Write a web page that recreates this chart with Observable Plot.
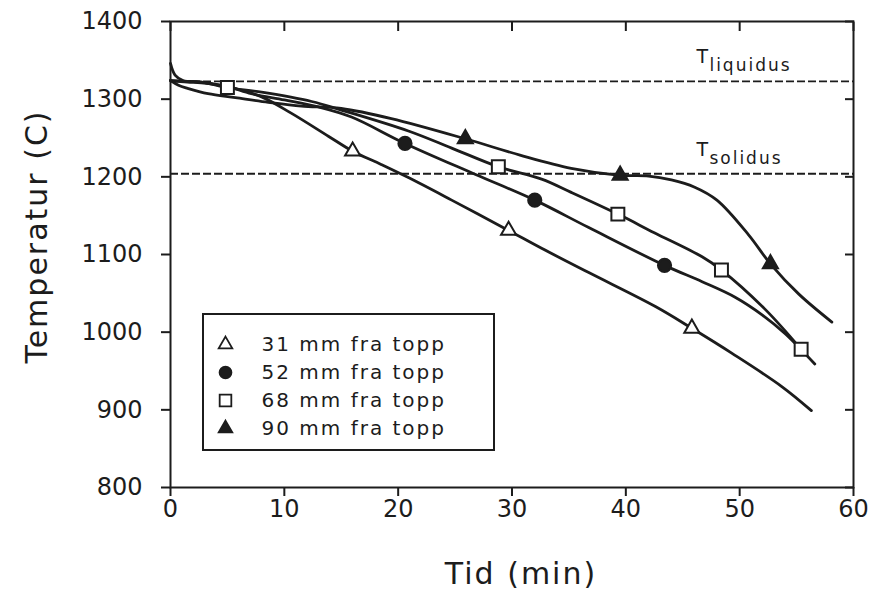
<!DOCTYPE html>
<html>
<head>
<meta charset="utf-8">
<script src="https://cdn.jsdelivr.net/npm/d3@7"></script>
<script src="https://cdn.jsdelivr.net/npm/@observablehq/plot@0.6"></script>
<style>
  html, body { margin: 0; padding: 0; background: #fff; }
  #chart { position: relative; width: 872px; height: 595px; font-family: "DejaVu Sans", sans-serif; }
  #legend { position: absolute; z-index: 1; left: 202px; top: 313px; width: 293px; height: 138px;
            box-sizing: border-box; border: 2.5px solid #1c1c1c; background: #fff; }
  #legend text { letter-spacing: 2px; }
  #chart g[aria-label="text"] text { letter-spacing: 2px; }
</style>
</head>
<body>
<div id="chart"><div id="legend"></div></div>
<script>
// Cooling curves: temperature (°C) against time (min) at four depths below the top.
const series = ["31 mm fra topp", "52 mm fra topp", "68 mm fra topp", "90 mm fra topp"];
const symbols = ["triangle", "circle", "square", "triangle"];
const filled = [false, true, false, true];

const time31 = [0, 0.4, 1.1, 2.7, 5.1, 8.0, 10.6, 13.9, 16.0, 18.5, 20.9, 24.7, 29.7, 32.6, 36.7, 42.6, 45.8, 49.3, 53.7, 56.3];
const temp31 = [1346, 1331, 1324, 1322, 1316, 1303, 1282, 1252, 1233, 1216, 1199, 1170, 1131, 1108, 1077, 1033, 1005, 973, 930, 899];
const markTime31 = [16.0, 29.7, 45.8];
const markTemp31 = [1233, 1131, 1005];

const time52 = [0, 1.5, 2.7, 5.0, 7.1, 10.0, 13.0, 15.9, 20.6, 26.8, 32.0, 36.7, 43.4, 46.7, 49.6, 52.0, 54.0, 56.6];
const temp52 = [1324, 1322, 1321, 1316, 1307, 1299, 1290, 1277, 1243, 1203, 1170, 1135, 1086, 1065, 1045, 1022, 998, 959];
const markTime52 = [20.6, 32.0, 43.4];
const markTemp52 = [1243, 1170, 1086];

const time68 = [0, 1.2, 2.7, 5.0, 8.0, 12.4, 15.0, 20.9, 24.7, 28.8, 32.6, 35.2, 39.3, 42.5, 46.7, 48.4, 52.2, 55.4];
const temp68 = [1324, 1323, 1322, 1315, 1309, 1297, 1286, 1259, 1237, 1213, 1197, 1180, 1152, 1128, 1097, 1080, 1030, 978];
const markTime68 = [5.0, 28.8, 39.3, 48.4, 55.4];
const markTemp68 = [1315, 1213, 1152, 1080, 978];

const time90 = [0, 0.7, 1.5, 3.3, 5.7, 8.6, 11.5, 15.0, 19.4, 25.9, 30.7, 35.2, 39.5, 42.0, 44.0, 46.0, 48.0, 50.8, 52.7, 55.2, 58.1];
const temp90 = [1324, 1318, 1314, 1307, 1302, 1296, 1291, 1288, 1275, 1249, 1228, 1211, 1202, 1201, 1196, 1187, 1170, 1125, 1088, 1049, 1013];
const markTime90 = [25.9, 39.5, 52.7];
const markTemp90 = [1249, 1202, 1088];

// Liquidus and solidus temperatures
const phaseNames = ["liquidus", "solidus"];
const phaseTemps = [1323, 1204];
const phaseLabelTime = 46.2;

const xTicks = [0, 10, 20, 30, 40, 50, 60];
const yTicks = [800, 900, 1000, 1100, 1200, 1300, 1400];
const xLabel = "Tid (min)";
const yLabel = "Temperatur (C)";

const ink = "#1c1c1c";
const curves = [
  {time: time31, temp: temp31, markTime: markTime31, markTemp: markTemp31},
  {time: time52, temp: temp52, markTime: markTime52, markTemp: markTemp52},
  {time: time68, temp: temp68, markTime: markTime68, markTemp: markTemp68},
  {time: time90, temp: temp90, markTime: markTime90, markTemp: markTemp90}
];
const markerRadius = {triangle: 5.6, circle: 6.6, square: 7.3};
const phases = phaseNames.map((name, i) => ({name, temp: phaseTemps[i]}));

const marks = [
  Plot.ruleY(phaseTemps, {stroke: ink, strokeWidth: 1.8, strokeDasharray: "8,3"}),
  Plot.text(phases, {x: () => phaseLabelTime, y: "temp", text: () => "T", textAnchor: "start",
    lineAnchor: "bottom", dy: -18, fontSize: 19, fill: ink}),
  Plot.text(phases, {x: () => phaseLabelTime, y: "temp", text: "name", textAnchor: "start",
    lineAnchor: "bottom", dx: 13, dy: -10, fontSize: 17, fill: ink})
];
curves.forEach((c) => {
  marks.push(Plot.line(c.temp, {x: c.time, y: c.temp, curve: "catmull-rom", stroke: ink, strokeWidth: 2.8}));
});
curves.forEach((c, i) => {
  marks.push(Plot.dot(c.markTemp, {x: c.markTime, y: c.markTemp, symbol: symbols[i], r: markerRadius[symbols[i]],
    fill: filled[i] ? ink : "white", stroke: ink, strokeWidth: 2}));
});
marks.push(
  Plot.frame({stroke: ink, strokeWidth: 2}),
  Plot.axisX({ticks: xTicks, tickSize: 9, tickPadding: 3, strokeWidth: 2, stroke: ink, fill: ink, fontSize: 24,
    tickFormat: d => String(d), label: null}),
  Plot.axisX({anchor: "top", ticks: xTicks, tickSize: 9, dy: 9, strokeWidth: 2, stroke: ink,
    tickFormat: () => "", label: null}),
  Plot.axisY({ticks: yTicks, tickSize: 9, tickPadding: 19, strokeWidth: 2, stroke: ink, fill: ink, fontSize: 24,
    tickFormat: d => String(d), label: null}),
  Plot.axisY({anchor: "right", ticks: yTicks, tickSize: 9, dx: -9, strokeWidth: 2, stroke: ink,
    tickFormat: () => "", label: null}),
  // axis titles
  Plot.text([xLabel], {text: d => d, frameAnchor: "bottom", textAnchor: "middle", lineAnchor: "middle",
    dx: 9, dy: 87, fontSize: 30, fill: ink}),
  Plot.text([yLabel], {text: d => d, frameAnchor: "left", textAnchor: "middle", lineAnchor: "middle",
    rotate: -90, dx: -133, dy: -18, fontSize: 30, fill: ink})
);

const chart = Plot.plot({
  width: 872,
  height: 595,
  marginLeft: 170,
  marginRight: 19,
  marginTop: 21,
  marginBottom: 108,
  style: {fontFamily: "DejaVu Sans, sans-serif", background: "white", color: ink},
  x: {domain: [0, 60]},
  y: {domain: [800, 1400]},
  marks
});
document.getElementById("chart").appendChild(chart);

// Legend box, drawn as a small plot with one row per depth
const legendMarks = [];
series.forEach((name, i) => {
  legendMarks.push(Plot.dot([name], {y: d => d, symbol: symbols[i], r: markerRadius[symbols[i]] * 0.9,
    fill: filled[i] ? ink : "white", stroke: ink, strokeWidth: 1.8, frameAnchor: "left", dx: 21}));
});
legendMarks.push(Plot.text(series, {y: d => d, text: d => d, frameAnchor: "left", textAnchor: "start", dx: 57,
  fontSize: 20, fill: ink}));
const legend = Plot.plot({
  width: 288,
  height: 133,
  margin: 0,
  style: {fontFamily: "DejaVu Sans, sans-serif", background: "white"},
  x: {axis: null},
  y: {type: "point", domain: series, range: [28, 113], padding: 0, axis: null},
  marks: legendMarks
});
document.getElementById("legend").appendChild(legend);
</script>
</body>
</html>
